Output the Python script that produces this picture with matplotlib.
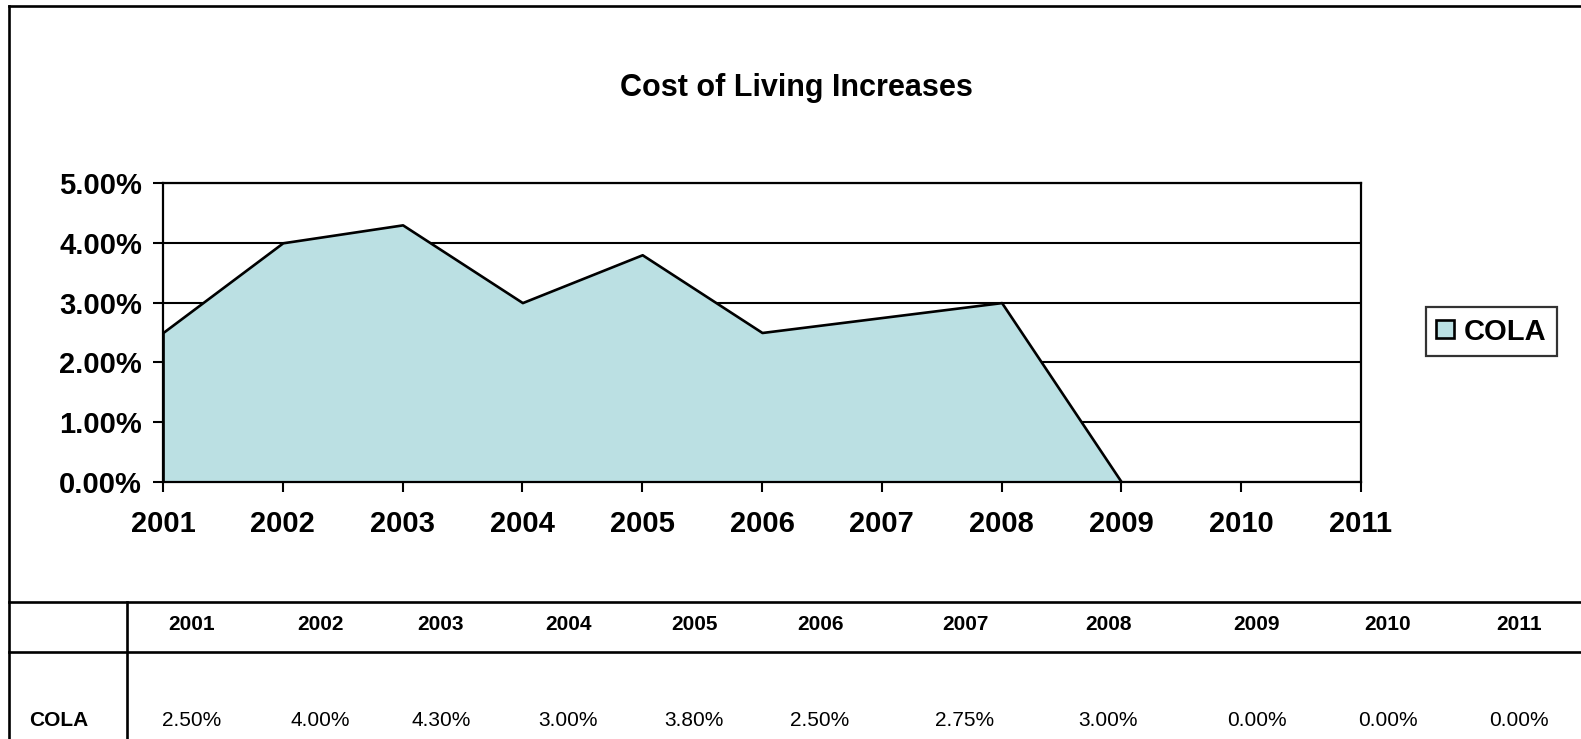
import numpy as np
import matplotlib
matplotlib.use("Agg")
import matplotlib.pyplot as plt
from matplotlib.lines import Line2D
from matplotlib.ticker import FuncFormatter

plt.rcParams['font.family'] = ['Liberation Sans', 'DejaVu Sans']

years = ['2001', '2002', '2003', '2004', '2005', '2006', '2007', '2008', '2009', '2010', '2011']
cola = [2.50, 4.00, 4.30, 3.00, 3.80, 2.50, 2.75, 3.00, 0.00, 0.00, 0.00]
series_name = 'COLA'
title = 'Cost of Living Increases'

W, H = 1581, 739
fig = plt.figure(figsize=(W / 100, H / 100), dpi=100)


def fx(x):
    return x / W


def fy(y):
    return 1 - y / H


# plot area
ax = fig.add_axes([fx(163), fy(482), fx(1361) - fx(163), fy(183) - fy(482)])
x = np.arange(len(years))
ax.fill_between(x, cola, 0, facecolor='#bbe0e3', edgecolor='black',
                linewidth=1.9, label=series_name, zorder=2)
ax.set_xlim(0, len(years) - 1)
ax.set_ylim(0, 5)
ax.set_yticks(np.arange(0, 6, 1))
ax.yaxis.set_major_formatter(FuncFormatter(lambda v, p: '{:.2f}%'.format(v)))
ax.set_xticks(x)
ax.set_xticklabels(years)
ax.set_axisbelow(True)
ax.grid(axis='y', color='black', linewidth=1.5)
for s in ax.spines.values():
    s.set_color('black')
    s.set_linewidth(1.6)
ax.tick_params(axis='both', length=7, width=1.5, color='black')
ax.tick_params(axis='y', pad=8)
ax.tick_params(axis='x', pad=13)
for lab in ax.get_xticklabels() + ax.get_yticklabels():
    lab.set_fontsize(21)
    lab.set_fontweight('bold')

fig.text(fx(796), fy(88), title, ha='center', va='center', fontsize=22, fontweight='bold')

leg = ax.legend(loc='center left', bbox_to_anchor=(fx(1426), fy(331.5)),
                bbox_transform=fig.transFigure, borderaxespad=0,
                prop={'size': 21, 'weight': 'bold'}, frameon=True, fancybox=False,
                handlelength=0.6, handleheight=0.6, handletextpad=0.35,
                borderpad=0.35)
leg.get_frame().set_edgecolor('black')
leg.get_frame().set_linewidth(1.6)

# outer chart border and data table lines
lines = [
    ((9, 9), (6, H)),
    ((9, W), (6, 6)),
    ((9, W), (602, 602)),
    ((9, W), (652, 652)),
    ((127, 127), (602, H)),
]
for xs, ys in lines:
    fig.add_artist(Line2D([fx(v) for v in xs], [fy(v) for v in ys],
                          color='black', linewidth=1.9))

col_centers = [192, 320, 441, 568, 694, 820, 965, 1108, 1257, 1388, 1519]
for cx, yr, val in zip(col_centers, years, cola):
    fig.text(fx(cx), fy(625), yr, ha='center', va='center', fontsize=15, fontweight='bold')
    fig.text(fx(cx), fy(720), '{:.2f}%'.format(val), ha='center', va='center', fontsize=15)
fig.text(fx(59), fy(720), series_name, ha='center', va='center', fontsize=15, fontweight='bold')

fig.savefig('out.png', dpi=100)
